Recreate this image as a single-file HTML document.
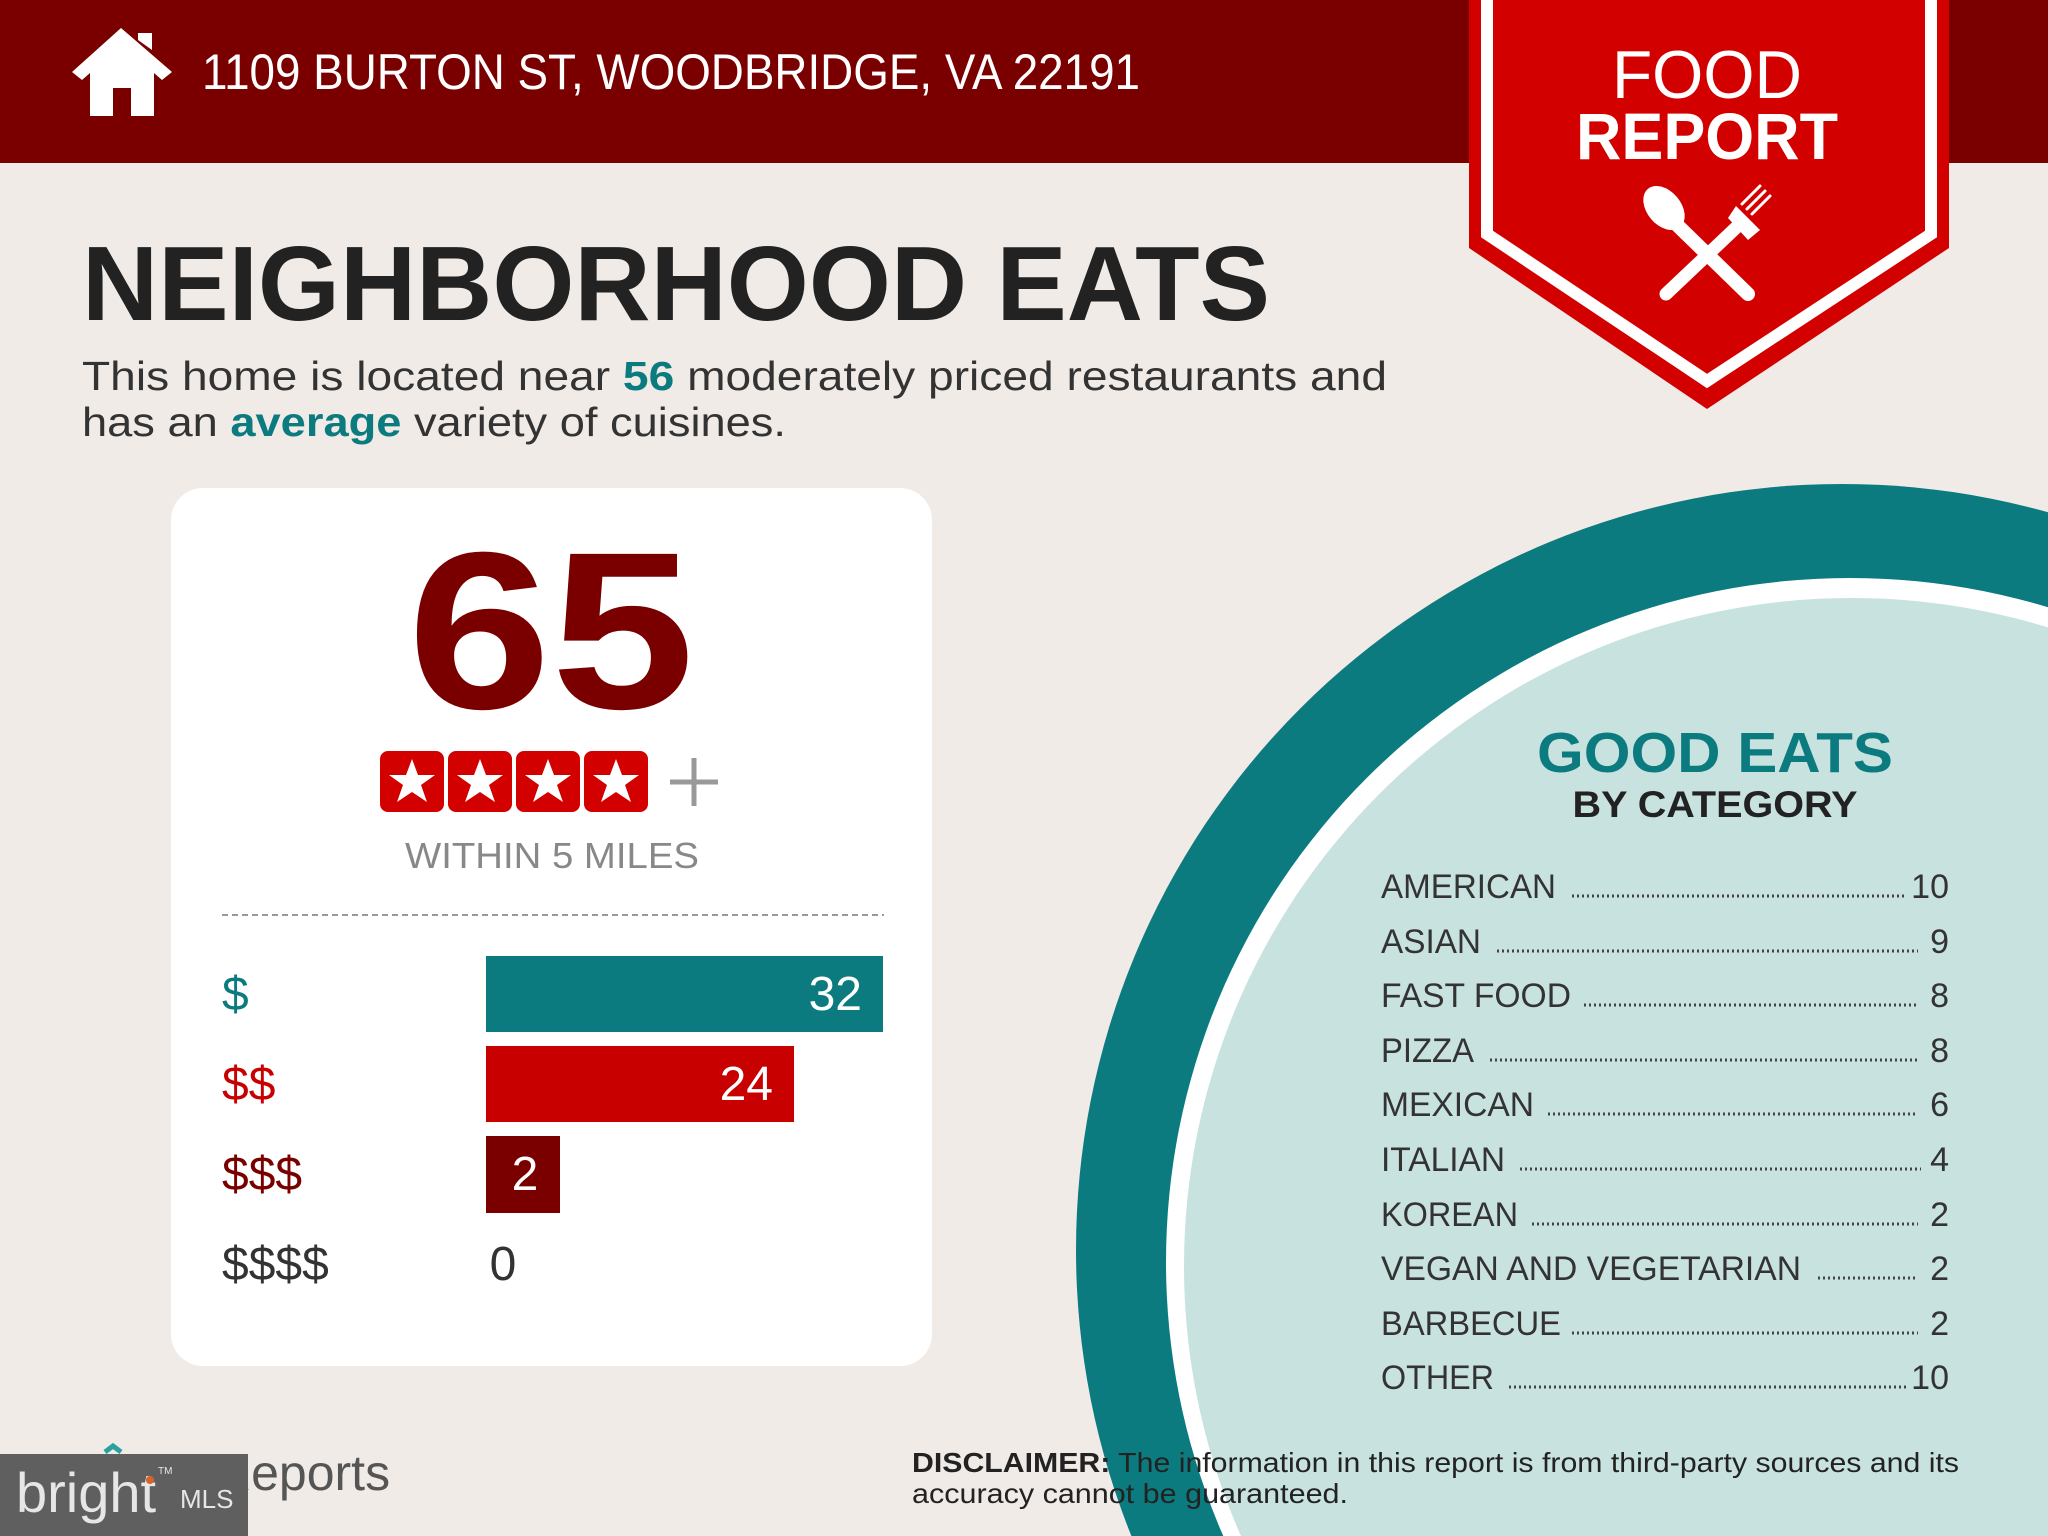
<!DOCTYPE html>
<html><head><meta charset="utf-8"><style>
html,body{margin:0;padding:0;background:#f0ebe7;overflow:hidden;width:2048px;height:1536px}
svg{display:block}
text{font-family:"Liberation Sans",sans-serif}
</style></head><body>
<svg width="2048" height="1536" viewBox="0 0 2048 1536" xmlns="http://www.w3.org/2000/svg">
<rect width="2048" height="1536" fill="#f0ebe7"/>
<!-- circle -->
<circle cx="1842" cy="1250" r="766" fill="#0c7b7f"/>
<circle cx="1850" cy="1262" r="684" fill="#ffffff"/>
<circle cx="1852" cy="1266" r="668" fill="#c8e2df"/>
<!-- header -->
<rect x="0" y="0" width="2048" height="163" fill="#7a0000"/>
<path d="M121 28 L72 72 L82 80 L90 73 L90 116 L113 116 L113 88 L131 88 L131 116 L154 116 L154 73 L162 80 L172 72 Z M138 33 L152 33 L152 50 L138 40 Z" fill="#fff"/>
<text x="202" y="89" font-size="50" fill="#fff" textLength="938" lengthAdjust="spacingAndGlyphs">1109 BURTON ST, WOODBRIDGE, VA 22191</text>
<!-- badge -->
<polygon points="1469,0 1949,0 1949,248 1707,409 1469,248" fill="#d30000"/>
<polyline points="1487,0 1487,234 1707,381 1931,234 1931,0" fill="none" stroke="#fff" stroke-width="12"/>
<text x="1707" y="98" font-size="68" fill="#fff" text-anchor="middle" textLength="190" lengthAdjust="spacingAndGlyphs">FOOD</text>
<text x="1707" y="159" font-size="66" font-weight="bold" fill="#fff" text-anchor="middle" textLength="262" lengthAdjust="spacingAndGlyphs">REPORT</text>
<g stroke="#fff" stroke-linecap="round">
<line x1="1672" y1="220" x2="1748" y2="294" stroke-width="14"/>
<line x1="1742" y1="222" x2="1666" y2="294" stroke-width="13"/>
<line x1="1742" y1="204" x2="1760" y2="186" stroke-width="3"/>
<line x1="1747" y1="209" x2="1765" y2="191" stroke-width="3"/>
<line x1="1752" y1="214" x2="1770" y2="196" stroke-width="3"/>
</g>
<ellipse cx="1664" cy="208" rx="17" ry="25" transform="rotate(-40 1664 208)" fill="#fff"/>
<path d="M1736 206 L1760 230 L1748 240 L1728 218 Z" fill="#fff"/>
<!-- title -->
<text x="82" y="320" font-size="106" font-weight="bold" fill="#222" textLength="1188" lengthAdjust="spacingAndGlyphs">NEIGHBORHOOD EATS</text>
<text x="82" y="390" font-size="41" fill="#333" textLength="1305" lengthAdjust="spacingAndGlyphs">This home is located near <tspan font-weight="bold" fill="#0c7b7f">56</tspan> moderately priced restaurants and</text>
<text x="82" y="436" font-size="41" fill="#333" textLength="704" lengthAdjust="spacingAndGlyphs">has an <tspan font-weight="bold" fill="#0c7b7f">average</tspan> variety of cuisines.</text>
<!-- card -->
<rect x="171" y="488" width="761" height="878" rx="32" fill="#fff"/>
<text x="551" y="708" font-size="224" font-weight="bold" fill="#7a0000" text-anchor="middle" textLength="287" lengthAdjust="spacingAndGlyphs">65</text>
<g fill="#d30000">
<rect x="380" y="751" width="64" height="61" rx="8"/>
<rect x="448" y="751" width="64" height="61" rx="8"/>
<rect x="516" y="751" width="64" height="61" rx="8"/>
<rect x="584" y="751" width="64" height="61" rx="8"/>
</g>
<g fill="#fff">
<path id="st" d="M412 759 L418 775 L435 775 L421 785 L427 802 L412 792 L397 802 L403 785 L389 775 L406 775 Z"/>
<use href="#st" x="68"/><use href="#st" x="136"/><use href="#st" x="204"/>
</g>
<path d="M694 758 V806 M670 782 H718" stroke="#999" stroke-width="5"/>
<text x="552" y="868" font-size="36" fill="#888" text-anchor="middle" textLength="294" lengthAdjust="spacingAndGlyphs">WITHIN 5 MILES</text>
<line x1="222" y1="915" x2="884" y2="915" stroke="#999" stroke-width="2" stroke-dasharray="6 4"/>
<rect x="486" y="956" width="397" height="76" fill="#0c7b7f"/>
<rect x="486" y="1046" width="308" height="76" fill="#c90000"/>
<rect x="486" y="1136" width="74" height="77" fill="#7a0000"/>
<g font-size="48">
<text x="222" y="1010" fill="#0c7b7f">$</text>
<text x="222" y="1100" fill="#c90000">$$</text>
<text x="222" y="1190" fill="#7a0000">$$$</text>
<text x="222" y="1280" fill="#333">$$$$</text>
<text x="862" y="1010" fill="#fff" text-anchor="end">32</text>
<text x="773" y="1100" fill="#fff" text-anchor="end">24</text>
<text x="525" y="1190" fill="#fff" text-anchor="middle">2</text>
<text x="503" y="1280" fill="#333" text-anchor="middle">0</text>
</g>
<!-- good eats -->
<text x="1715" y="772" font-size="57" font-weight="bold" fill="#0c7b7f" text-anchor="middle" textLength="356" lengthAdjust="spacingAndGlyphs">GOOD EATS</text>
<text x="1715" y="817" font-size="37" font-weight="bold" fill="#222" text-anchor="middle" textLength="285" lengthAdjust="spacingAndGlyphs">BY CATEGORY</text>
<g font-size="34" fill="#333">
<text x="1381" y="898" textLength="175" lengthAdjust="spacingAndGlyphs">AMERICAN</text>
<text x="1381" y="953" textLength="100" lengthAdjust="spacingAndGlyphs">ASIAN</text>
<text x="1381" y="1007" textLength="190" lengthAdjust="spacingAndGlyphs">FAST FOOD</text>
<text x="1381" y="1062" textLength="93" lengthAdjust="spacingAndGlyphs">PIZZA</text>
<text x="1381" y="1116" textLength="153" lengthAdjust="spacingAndGlyphs">MEXICAN</text>
<text x="1381" y="1171" textLength="124" lengthAdjust="spacingAndGlyphs">ITALIAN</text>
<text x="1381" y="1226" textLength="137" lengthAdjust="spacingAndGlyphs">KOREAN</text>
<text x="1381" y="1280" textLength="420" lengthAdjust="spacingAndGlyphs">VEGAN AND VEGETARIAN</text>
<text x="1381" y="1335" textLength="180" lengthAdjust="spacingAndGlyphs">BARBECUE</text>
<text x="1381" y="1389" textLength="113" lengthAdjust="spacingAndGlyphs">OTHER</text>
<g text-anchor="end">
<text x="1949" y="898">10</text><text x="1949" y="953">9</text><text x="1949" y="1007">8</text>
<text x="1949" y="1062">8</text><text x="1949" y="1116">6</text><text x="1949" y="1171">4</text>
<text x="1949" y="1226">2</text><text x="1949" y="1280">2</text><text x="1949" y="1335">2</text>
<text x="1949" y="1389">10</text>
</g>
</g>
<g stroke="#444" stroke-width="3" stroke-dasharray="2 3">
<line x1="1572" y1="896" x2="1907" y2="896"/>
<line x1="1497" y1="951" x2="1918" y2="951"/>
<line x1="1584" y1="1005" x2="1918" y2="1005"/>
<line x1="1490" y1="1060" x2="1918" y2="1060"/>
<line x1="1548" y1="1114" x2="1918" y2="1114"/>
<line x1="1520" y1="1169" x2="1921" y2="1169"/>
<line x1="1532" y1="1224" x2="1918" y2="1224"/>
<line x1="1818" y1="1278" x2="1918" y2="1278"/>
<line x1="1572" y1="1333" x2="1918" y2="1333"/>
<line x1="1509" y1="1387" x2="1907" y2="1387"/>
</g>
<!-- footer -->
<text x="912" y="1472" font-size="28" fill="#222" textLength="1047" lengthAdjust="spacingAndGlyphs"><tspan font-weight="bold">DISCLAIMER:</tspan> The information in this report is from third-party sources and its</text>
<text x="912" y="1503" font-size="28" fill="#222" textLength="436" lengthAdjust="spacingAndGlyphs">accuracy cannot be guaranteed.</text>
<text x="215" y="1490" font-size="50" fill="#555">Reports</text>
<path d="M105 1452 L113 1446 L121 1452" stroke="#2aa0a0" stroke-width="5" fill="none"/>
<rect x="0" y="1454" width="248" height="82" fill="#5f5f5f"/>
<text x="16" y="1512" font-size="56" fill="#e6e6e6" font-family="Liberation Serif, serif">bright</text>
<text x="180" y="1508" font-size="26" fill="#e6e6e6">MLS</text>
<text x="158" y="1474" font-size="10" fill="#e6e6e6">TM</text>
<circle cx="150" cy="1480" r="4" fill="#d9622b"/>
</svg>
</body></html>
